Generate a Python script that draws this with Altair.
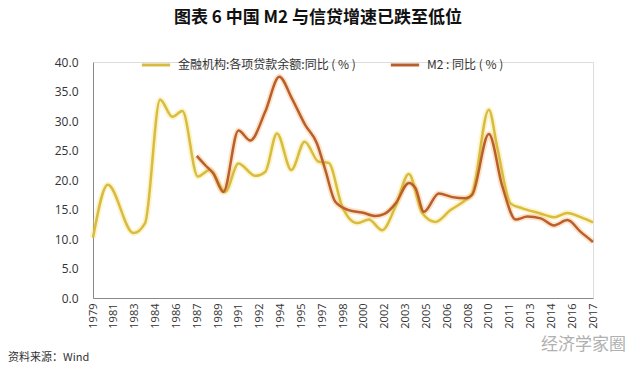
import altair as alt
import pandas as pd

x_labels = ["1979", "1981", "1983", "1984", "1986", "1987", "1989", "1991", "1992",
            "1994", "1995", "1997", "1998", "2000", "2002", "2003", "2005", "2006",
            "2008", "2010", "2011", "2013", "2014", "2016", "2017"]

S1 = "金融机构:各项贷款余额:同比 ( % )"
S2 = "M2 : 同比 ( % )"

loan_t = [0, 0.71, 1.94, 2.5, 3.22, 3.81, 4.29, 5.03, 5.6, 6.35, 6.98, 7.79, 8.27, 8.83,
          9.52, 10.16, 10.83, 11.31, 11.96, 12.68, 13.24, 13.88, 14.52, 15.16, 15.8,
          16.44, 17.16, 17.88, 18.2, 19.0, 19.4, 20.05, 20.61, 21.4, 22.13, 22.77,
          23.41, 24]
loan_v = [10.2, 19.2, 11.0, 12.7, 33.6, 30.7, 31.7, 20.6, 21.7, 18.0, 22.8, 20.7, 21.4,
          27.9, 21.7, 26.5, 23.1, 22.9, 15.5, 12.7, 13.3, 11.5, 15.5, 21.0, 14.4, 12.9,
          14.9, 16.6, 17.7, 31.9, 25.6, 16.0, 15.2, 14.4, 13.7, 14.4, 13.7, 12.8]

m2_t = [4.98, 5.39, 5.78, 6.26, 6.98, 7.55, 8.27, 8.94, 9.55, 10.19, 10.75, 11.15, 11.63,
        12.27, 12.91, 13.56, 13.96, 14.52, 15.16, 15.48, 15.88, 16.6, 17.24, 17.88,
        18.2, 19.0, 19.65, 20.29, 20.85, 21.49, 22.13, 22.77, 23.41, 24]
m2_v = [24.1, 22.5, 21.1, 18.0, 28.4, 26.7, 31.6, 37.5, 33.8, 29.3, 26.2, 21.7, 16.3,
        14.9, 14.5, 13.9, 14.2, 16.0, 19.5, 18.6, 14.6, 17.7, 17.1, 16.9, 17.5, 27.8,
        18.9, 13.3, 13.8, 13.5, 12.3, 13.2, 11.2, 9.5]

df = pd.concat([
    pd.DataFrame({"t": loan_t, "v": loan_v, "s": S1, "o": 0}),
    pd.DataFrame({"t": m2_t, "v": m2_v, "s": S2, "o": 1}),
])

label_expr = "[" + ",".join(f"'{l}'" for l in x_labels) + "][datum.value]"

num_font = "Open Sans"
cjk_font = "Noto Sans CJK SC"

x_enc = alt.X("t:Q", scale=alt.Scale(domain=[0, 24], nice=False, zero=False),
              axis=alt.Axis(values=list(range(25)), labelExpr=label_expr, labelAngle=270,
                            labelAlign="right", labelBaseline="middle", ticks=False,
                            grid=False, domainColor="#888888", labelPadding=5,
                            labelFont=num_font, labelFontSize=11, labelColor="#333333",
                            title=None, labelOverlap=False))
y_enc = alt.Y("v:Q", scale=alt.Scale(domain=[0, 40], nice=False),
              axis=alt.Axis(values=[0, 5, 10, 15, 20, 25, 30, 35, 40], format=".1f",
                            ticks=False, grid=False, domainColor="#888888",
                            labelPadding=15, labelFont=num_font, labelFontSize=12,
                            labelColor="#333333", title=None))

cscale = alt.Scale(domain=[S1, S2], range=["#D8BC42", "#BA5F2C"])
glow_scale = alt.Scale(domain=[S1, S2], range=["#F8DC50", "#F2A24E"])

base = alt.Chart(df)

glow = base.mark_line(interpolate="monotone", strokeWidth=6, opacity=0.3).encode(
    x=x_enc, y=y_enc,
    stroke=alt.Stroke("s:N", scale=glow_scale, legend=None),
    order="o:Q",
)

lines = base.mark_line(interpolate="monotone", strokeWidth=2.5).encode(
    x=x_enc, y=y_enc,
    color=alt.Color("s:N", scale=cscale,
                    legend=alt.Legend(orient="none", legendX=47, legendY=-13,
                                      direction="horizontal", title=None,
                                      symbolType="stroke", symbolSize=800,
                                      symbolStrokeWidth=3, labelFont=cjk_font,
                                      labelFontSize=12, labelColor="#333333",
                                      columnPadding=28, labelOffset=6, labelLimit=400)),
    order="o:Q",
)

src = alt.Chart(pd.DataFrame({"txt": ["资料来源：Wind"]})).mark_text(
    align="left", baseline="middle", font=cjk_font, fontSize=11, color="#333333"
).encode(x=alt.value(-85), y=alt.value(296), text="txt:N")

wm = alt.Chart(pd.DataFrame({"txt": ["经济学家圈"]})).mark_text(
    align="left", baseline="middle", font=cjk_font, fontSize=17, color="#B0B0B0"
).encode(x=alt.value(448), y=alt.value(283), text="txt:N")

chart = alt.layer(glow, lines, src, wm).resolve_scale(
    color="independent", stroke="independent"
).properties(
    width=500, height=236,
    title=alt.Title("图表 6  中国 M2 与信贷增速已跌至低位", font=cjk_font, fontSize=17,
                    fontWeight="bold", color="#111111", anchor="middle", dx=-25,
                    offset=22),
    autosize=alt.AutoSizeParams(type="none"),
    padding={"left": 93, "top": 62, "right": 47, "bottom": 79},
).configure_view(stroke=None).configure(background="white")

chart.save("out.html", embed_options={"renderer": "svg", "actions": False})
